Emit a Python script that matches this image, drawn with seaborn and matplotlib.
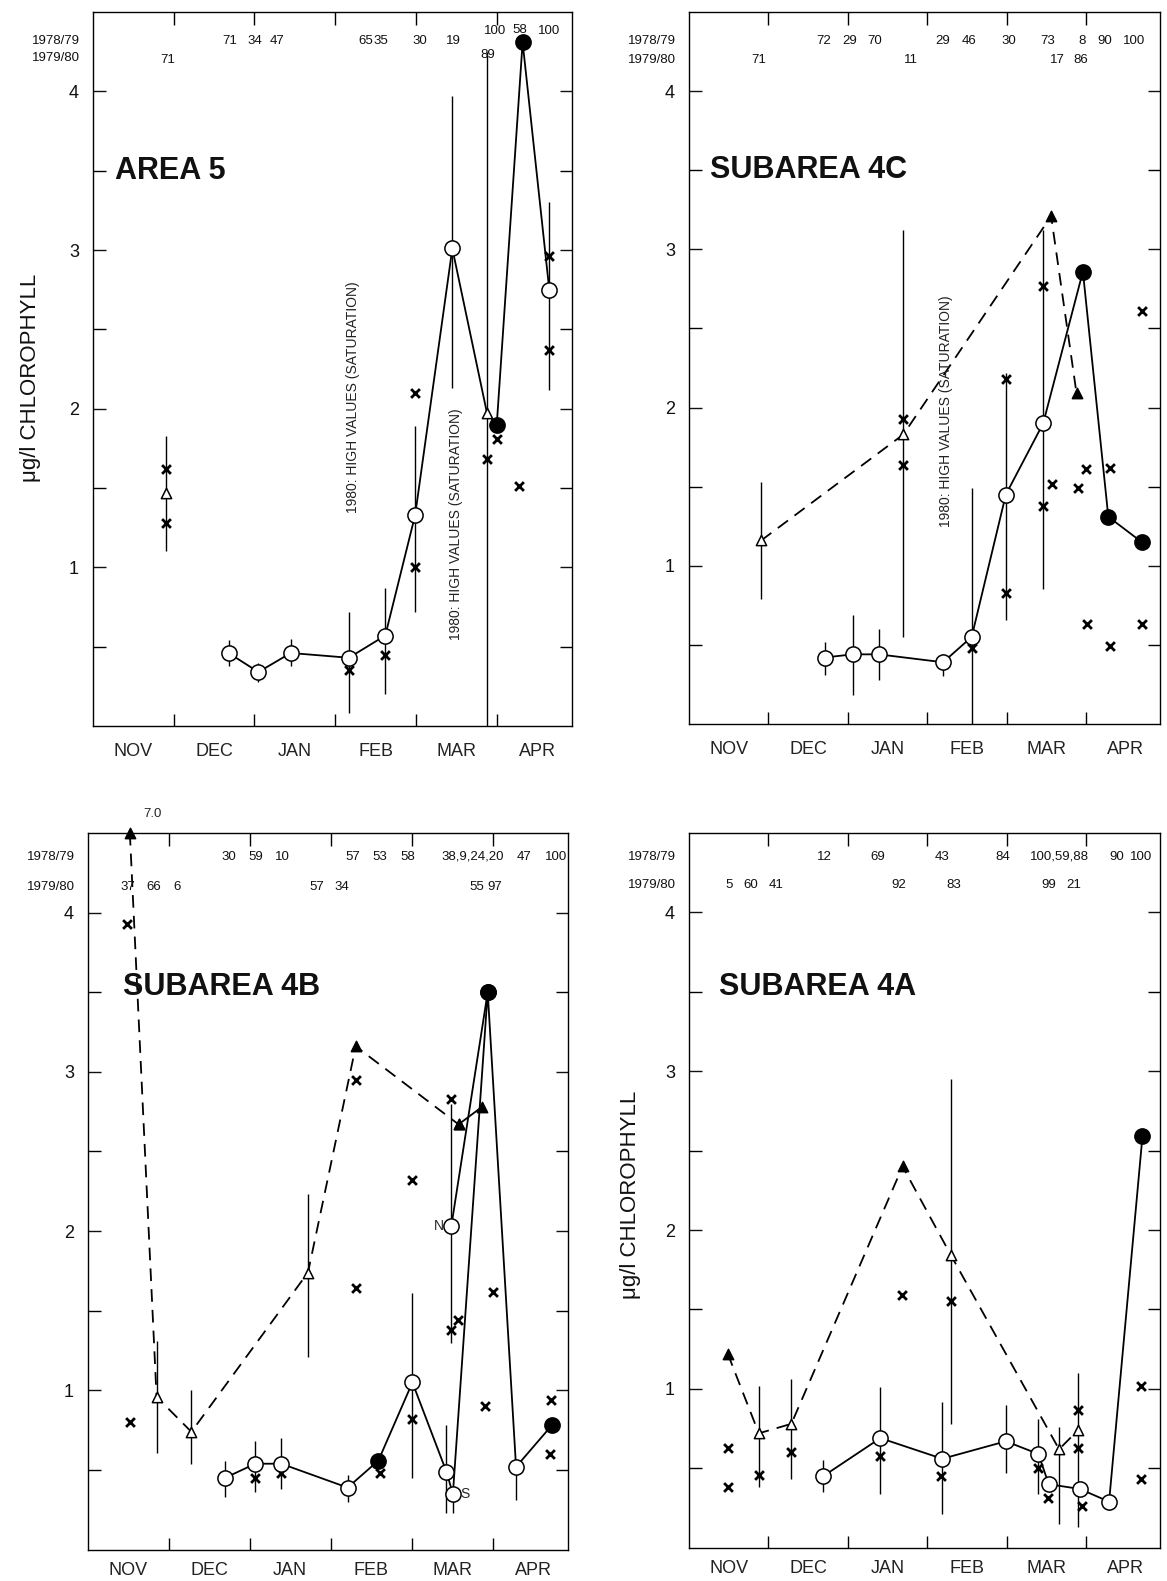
import numpy as np
import pandas as pd
import matplotlib
matplotlib.use("Agg")
import matplotlib.pyplot as plt
import seaborn as sns

sns.set_theme(style="white")
plt.rcParams["font.family"] = ["Liberation Sans", "DejaVu Sans"]

MONTHS = ["NOV", "DEC", "JAN", "FEB", "MAR", "APR"]
SAT_TEXT = "1980: HIGH VALUES (SATURATION)"
YLABEL = "\u03bcg/l CHLOROPHYLL"

# ---------------- AREA 5 ----------------
a5_solid_m = [1.68, 2.05, 2.45, 3.17, 3.62, 3.99, 4.45, 4.88, 5.00, 5.32, 5.65]
a5_solid_v = [0.46, 0.34, 0.46, 0.43, 0.57, 1.33, 3.01, 1.97, 1.90, 4.31, 2.75]
a5_solid_k = ["oc"] * 7 + ["ot", "fc", "fc", "oc"]
a5_lone_m = [0.90]
a5_lone_v = [1.47]
a5_lone_k = ["ot"]
a5_cross_m = [0.90, 0.90, 3.17, 3.62, 3.99, 3.99, 4.88, 5.00, 5.28, 5.65, 5.65]
a5_cross_v = [1.62, 1.28, 0.35, 0.45, 1.00, 2.10, 1.68, 1.81, 1.51, 2.96, 2.37]
a5_bar_m = [0.90, 1.68, 2.05, 2.45, 3.17, 3.62, 3.99, 4.45, 4.88, 5.65]
a5_bar_lo = [1.10, 0.38, 0.28, 0.38, 0.08, 0.20, 0.72, 2.13, 0.00, 2.12]
a5_bar_hi = [1.83, 0.54, 0.40, 0.55, 0.72, 0.87, 1.89, 3.97, 4.25, 3.30]
a5_row1_m = [1.69, 2.00, 2.28, 3.38, 3.57, 4.05, 4.46, 4.98, 5.28, 5.65]
a5_row1_v = [4.32, 4.32, 4.32, 4.32, 4.32, 4.32, 4.32, 4.38, 4.39, 4.38]
a5_row1_t = ["71", "34", "47", "65", "35", "30", "19", "100", "58", "100"]
a5_row2_m = [0.93, 4.89]
a5_row2_v = [4.20, 4.23]
a5_row2_t = ["71", "89"]
a5_note_m = [3.22, 4.49]
a5_note_v = [2.07, 1.27]

# ---------------- SUBAREA 4C ----------------
c4_solid_m = [1.71, 2.06, 2.39, 3.20, 3.56, 3.99, 4.46, 4.96, 5.28, 5.70]
c4_solid_v = [0.42, 0.44, 0.44, 0.39, 0.55, 1.45, 1.90, 2.86, 1.31, 1.15]
c4_solid_k = ["oc"] * 7 + ["fc"] * 3
c4_dash_m = [0.91, 2.70, 4.56, 4.88]
c4_dash_v = [1.16, 1.83, 3.21, 2.09]
c4_dash_k = ["ot", "ot", "ft", "ft"]
c4_cross_m = [2.70, 2.70, 3.56, 3.99, 3.99, 4.46, 4.46, 4.57, 4.90, 5.00, 5.30, 5.71, 5.01, 5.30, 5.70]
c4_cross_v = [1.93, 1.64, 0.48, 2.18, 0.83, 2.77, 1.38, 1.52, 1.49, 1.61, 1.62, 2.61, 0.63, 0.49, 0.63]
c4_bar_m = [0.91, 2.70, 1.71, 2.06, 2.39, 3.20, 3.56, 3.99, 4.46]
c4_bar_lo = [0.79, 0.55, 0.31, 0.18, 0.28, 0.30, 0.00, 0.66, 0.85]
c4_bar_hi = [1.53, 3.12, 0.52, 0.69, 0.60, 0.44, 1.49, 2.22, 3.12]
c4_row1_m = [1.70, 2.02, 2.34, 3.20, 3.53, 4.03, 4.52, 4.95, 5.23, 5.61]
c4_row1_t = ["72", "29", "70", "29", "46", "30", "73", "8", "90", "100"]
c4_row2_m = [0.88, 2.79, 4.64, 4.93]
c4_row2_t = ["71", "11", "17", "86"]
c4_note_m = [3.24]
c4_note_v = [1.98]

# ---------------- SUBAREA 4B ----------------
b4_dash_m = [0.52, 0.85, 1.28, 2.72, 3.31, 4.58]
b4_dash_v = [4.50, 0.96, 0.74, 1.74, 3.16, 2.67]
b4_dash_k = ["ft", "ot", "ot", "ot", "ft", "ft"]
b4_solid_m = [1.69, 2.07, 2.39, 3.21, 3.59, 4.01, 4.43, 4.51, 4.94, 5.29, 5.73]
b4_solid_v = [0.45, 0.54, 0.54, 0.39, 0.56, 1.05, 0.49, 0.35, 3.50, 0.52, 0.78]
b4_solid_k = ["oc", "oc", "oc", "oc", "fc", "oc", "oc", "oc", "fc", "oc", "fc"]
b4_north_m = [4.49, 4.94]
b4_north_v = [2.03, 3.50]
b4_north_k = ["oc", "fc"]
b4_tri_m = [4.58, 4.87]
b4_tri_v = [2.67, 2.78]
b4_tri_k = ["ft", "ft"]
b4_cross_m = [0.49, 0.52, 2.06, 2.39, 3.31, 3.31, 3.61, 4.00, 4.01, 4.49, 4.49, 4.57, 4.91, 5.01, 5.72, 5.71]
b4_cross_v = [3.93, 0.80, 0.45, 0.48, 2.95, 1.64, 0.48, 0.82, 2.32, 2.83, 1.38, 1.44, 0.90, 1.62, 0.94, 0.60]
b4_bar_m = [0.85, 1.28, 2.72, 1.69, 2.07, 2.39, 3.21, 4.01, 4.43, 4.49, 4.51, 5.29]
b4_bar_lo = [0.61, 0.54, 1.21, 0.33, 0.36, 0.38, 0.30, 0.45, 0.23, 1.30, 0.23, 0.31]
b4_bar_hi = [1.31, 1.00, 2.23, 0.56, 0.68, 0.70, 0.47, 1.61, 0.78, 2.80, 0.35, 0.52]
b4_row1_m = [1.74, 2.08, 2.40, 3.27, 3.61, 3.95, 4.75, 5.39, 5.79]
b4_row1_t = ["30", "59", "10", "57", "53", "58", "38,9,24,20", "47", "100"]
b4_row2_m = [0.49, 0.81, 1.10, 2.83, 3.14, 4.80, 5.03]
b4_row2_t = ["37", "66", "6", "57", "34", "55", "97"]

# ---------------- SUBAREA 4A ----------------
a4_dash_m = [0.49, 0.88, 1.29, 2.69, 3.30, 4.66, 4.90]
a4_dash_v = [1.22, 0.72, 0.78, 2.40, 1.84, 0.62, 0.74]
a4_dash_k = ["ft", "ot", "ot", "ft", "ot", "ot", "ot"]
a4_solid_m = [1.69, 2.41, 3.19, 3.99, 4.40, 4.53, 4.92, 5.29, 5.71]
a4_solid_v = [0.45, 0.69, 0.56, 0.67, 0.59, 0.40, 0.37, 0.29, 2.59]
a4_solid_k = ["oc"] * 8 + ["fc"]
a4_cross_m = [0.49, 0.49, 0.88, 1.29, 2.68, 2.41, 3.30, 3.18, 4.39, 4.52, 4.90, 4.90, 4.95, 5.69, 5.69]
a4_cross_v = [0.63, 0.38, 0.46, 0.60, 1.59, 0.58, 1.55, 0.45, 0.50, 0.31, 0.87, 0.63, 0.26, 1.02, 0.43]
a4_bar_m = [0.88, 1.29, 3.30, 4.66, 4.90, 1.69, 2.41, 3.19, 3.99, 4.40, 5.29]
a4_bar_lo = [0.38, 0.43, 0.78, 0.15, 0.13, 0.35, 0.34, 0.21, 0.47, 0.34, 0.24]
a4_bar_hi = [1.02, 1.06, 2.95, 0.76, 1.10, 0.55, 1.01, 0.92, 0.90, 0.81, 0.33]
a4_row1_m = [1.71, 2.38, 3.19, 3.95, 4.66, 5.38, 5.69]
a4_row1_t = ["12", "69", "43", "84", "100,59,88", "90", "100"]
a4_row2_m = [0.51, 0.78, 1.10, 2.64, 3.34, 4.53, 4.85]
a4_row2_t = ["5", "60", "41", "92", "83", "99", "21"]

fig = plt.figure(figsize=(11.67, 15.81), dpi=100)

MARK = {
    "oc": dict(marker="o", s=120, color="white", edgecolor="black", linewidth=1.1),
    "fc": dict(marker="o", s=120, color="black", edgecolor="black", linewidth=1.1),
    "ot": dict(marker="^", s=55, color="white", edgecolor="black", linewidth=1.1),
    "ft": dict(marker="^", s=55, color="black", edgecolor="black", linewidth=1.1),
}


def line(ax, m, v, dashed=False):
    df = pd.DataFrame({"month": m, "value": v})
    sns.lineplot(data=df, x="month", y="value", sort=False, estimator=None,
                 color="black", linewidth=1.3, ax=ax, zorder=3)
    ln = ax.get_lines()[-1]
    if dashed:
        ln.set_dashes([7, 4.5])
    ln.set_clip_on(False)


def marks(ax, m, v, k):
    df = pd.DataFrame({"month": m, "value": v, "kind": k})
    for kind, sub in df.groupby("kind"):
        sns.scatterplot(data=sub, x="month", y="value", ax=ax, zorder=5,
                        clip_on=False, legend=False, **MARK[kind])


def crosses(ax, m, v):
    df = pd.DataFrame({"month": m, "value": v})
    sns.scatterplot(data=df, x="month", y="value", ax=ax, marker="x", s=40,
                    color="black", linewidth=2.0, zorder=4, legend=False)


def bars(ax, m, lo, hi):
    ax.vlines(m, lo, hi, color="black", linewidth=1.0, zorder=2)


def setup(ax, title, tx, ty, row1, row2, y1, y2, pad=12):
    ax.set_xlim(0, 5.93)
    ax.set_ylim(0, 4.5)
    ax.set_xticks([1, 2, 3, 4, 5])
    ax.set_xticklabels([])
    ax.set_xticks([0.5, 1.5, 2.5, 3.5, 4.5, 5.5], minor=True)
    ax.set_xticklabels(MONTHS, minor=True, fontsize=13)
    ax.tick_params(axis="x", which="major", direction="in", length=9, width=1.0,
                   top=True, bottom=True, color="black")
    ax.tick_params(axis="x", which="minor", length=0, pad=pad, colors="#222222")
    ax.set_yticks([1, 2, 3, 4])
    ax.set_yticklabels(["1", "2", "3", "4"], fontsize=13)
    ax.set_yticks([0.5, 1.5, 2.5, 3.5], minor=True)
    ax.tick_params(axis="y", which="both", direction="in", length=9, width=1.0,
                   left=True, right=True, color="black", pad=10)
    ax.tick_params(axis="y", which="major", colors="#111111")
    for s in ax.spines.values():
        s.set_color("black")
        s.set_linewidth(1.0)
    ax.set_xlabel("")
    ax.set_ylabel("")
    ax.text(tx, ty, title, fontsize=22, fontweight="bold", va="center", ha="left",
            color="#111111")
    for m, t, v in row1:
        ax.text(m, v, t, fontsize=9.5, ha="center", va="center", color="#111111")
    for m, t, v in row2:
        ax.text(m, v, t, fontsize=9.5, ha="center", va="center", color="#111111")
    ax.annotate("1978/79", xy=(0, y1), xycoords=("axes fraction", "data"),
                xytext=(-9, 0), textcoords="offset points", ha="right", va="center",
                fontsize=9.5, color="#111111", annotation_clip=False)
    ax.annotate("1979/80", xy=(0, y2), xycoords=("axes fraction", "data"),
                xytext=(-9, 0), textcoords="offset points", ha="right", va="center",
                fontsize=9.5, color="#111111", annotation_clip=False)


W, H = 1157.0, 1568.0

# AREA 5
ax1 = fig.add_axes([92 / W, 1 - 720 / H, (567 - 92) / W, (720 - 12) / H])
bars(ax1, a5_bar_m, a5_bar_lo, a5_bar_hi)
line(ax1, a5_solid_m, a5_solid_v)
crosses(ax1, a5_cross_m, a5_cross_v)
marks(ax1, a5_solid_m, a5_solid_v, a5_solid_k)
marks(ax1, a5_lone_m, a5_lone_v, a5_lone_k)
for m, v in zip(a5_note_m, a5_note_v):
    ax1.text(m, v, SAT_TEXT, rotation=90, fontsize=10, ha="center", va="center",
             color="#222222")
setup(ax1, "AREA 5", 0.27, 3.5,
      list(zip(a5_row1_m, a5_row1_t, a5_row1_v)),
      list(zip(a5_row2_m, a5_row2_t, a5_row2_v)), 4.32, 4.21)

# SUBAREA 4C
ax2 = fig.add_axes([683 / W, 1 - 718 / H, (1150 - 683) / W, (718 - 12) / H])
bars(ax2, c4_bar_m, c4_bar_lo, c4_bar_hi)
line(ax2, c4_dash_m, c4_dash_v, dashed=True)
line(ax2, c4_solid_m, c4_solid_v)
crosses(ax2, c4_cross_m, c4_cross_v)
marks(ax2, c4_dash_m, c4_dash_v, c4_dash_k)
marks(ax2, c4_solid_m, c4_solid_v, c4_solid_k)
for m, v in zip(c4_note_m, c4_note_v):
    ax2.text(m, v, SAT_TEXT, rotation=90, fontsize=10, ha="center", va="center",
             color="#222222")
setup(ax2, "SUBAREA 4C", 0.27, 3.5,
      [(m, t, 4.32) for m, t in zip(c4_row1_m, c4_row1_t)],
      [(m, t, 4.20) for m, t in zip(c4_row2_m, c4_row2_t)], 4.32, 4.20)

# SUBAREA 4B
ax3 = fig.add_axes([87 / W, 1 - 1537 / H, (563 - 87) / W, (1537 - 826) / H])
bars(ax3, b4_bar_m, b4_bar_lo, b4_bar_hi)
line(ax3, b4_dash_m, b4_dash_v, dashed=True)
line(ax3, b4_solid_m, b4_solid_v)
line(ax3, b4_north_m, b4_north_v)
line(ax3, b4_tri_m, b4_tri_v)
crosses(ax3, b4_cross_m, b4_cross_v)
marks(ax3, b4_dash_m, b4_dash_v, b4_dash_k)
marks(ax3, b4_solid_m, b4_solid_v, b4_solid_k)
marks(ax3, b4_north_m, b4_north_v, b4_north_k)
marks(ax3, b4_tri_m, b4_tri_v, b4_tri_k)
ax3.text(b4_north_m[0] - 0.09, b4_north_v[0], "N", fontsize=10, ha="right", va="center")
ax3.text(b4_solid_m[7] + 0.09, b4_solid_v[7], "S", fontsize=10, ha="left", va="center")
ax3.text(b4_dash_m[0] + 0.17, 4.62, "7.0", fontsize=9.5, ha="left", va="center")
setup(ax3, "SUBAREA 4B", 0.44, 3.53,
      [(m, t, 4.35) for m, t in zip(b4_row1_m, b4_row1_t)],
      [(m, t, 4.16) for m, t in zip(b4_row2_m, b4_row2_t)], 4.35, 4.16, pad=9)

# SUBAREA 4A
ax4 = fig.add_axes([683 / W, 1 - 1535 / H, (1150 - 683) / W, (1535 - 826) / H])
bars(ax4, a4_bar_m, a4_bar_lo, a4_bar_hi)
line(ax4, a4_dash_m, a4_dash_v, dashed=True)
line(ax4, a4_solid_m, a4_solid_v)
crosses(ax4, a4_cross_m, a4_cross_v)
marks(ax4, a4_dash_m, a4_dash_v, a4_dash_k)
marks(ax4, a4_solid_m, a4_solid_v, a4_solid_k)
setup(ax4, "SUBAREA 4A", 0.38, 3.53,
      [(m, t, 4.35) for m, t in zip(a4_row1_m, a4_row1_t)],
      [(m, t, 4.17) for m, t in zip(a4_row2_m, a4_row2_t)], 4.35, 4.17, pad=9)

fig.text(30 / W, 1 - 375 / H, YLABEL, rotation=90, fontsize=16, ha="center",
         va="center", color="#111111")
fig.text(625 / W, 1 - 1185 / H, YLABEL, rotation=90, fontsize=16, ha="center",
         va="center", color="#111111")

fig.savefig("out.png", dpi=100, facecolor="white")
